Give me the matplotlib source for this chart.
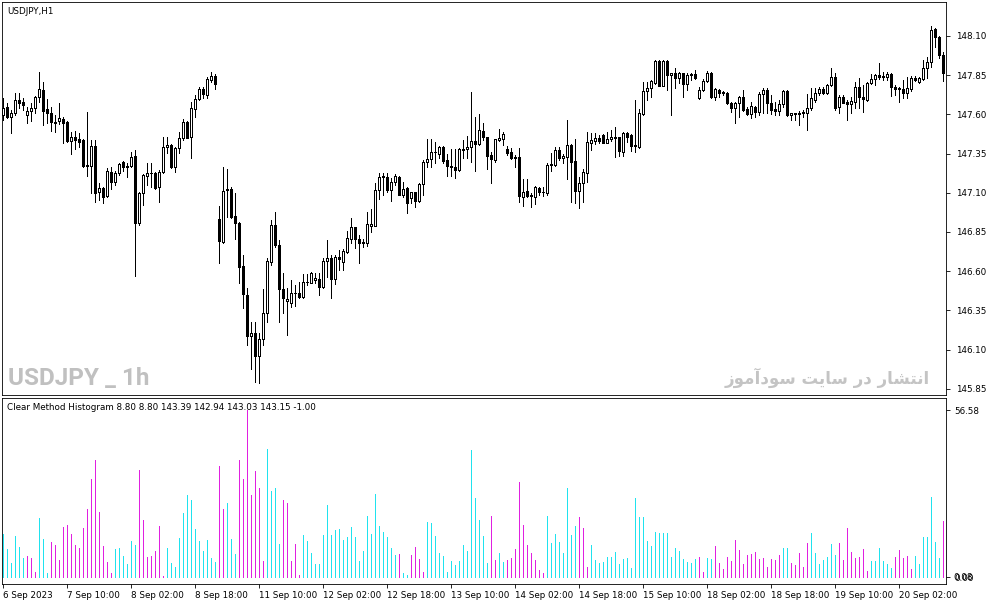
import matplotlib
matplotlib.use("Agg")
import matplotlib.pyplot as plt

# USDJPY H1, 6 Sep 2023 18:00 .. 20 Sep 2023 13:00 (236 bars)
opens = [147.596, 147.647, 147.584, 147.609, 147.692, 147.679, 147.596, 147.622, 147.641, 147.711,
         147.756, 147.635, 147.609, 147.552, 147.558, 147.571, 147.552, 147.431, 147.456, 147.443,
         147.437, 147.271, 147.271, 147.399, 147.105, 147.131, 147.080, 147.233, 147.169, 147.227,
         147.297, 147.265, 147.271, 147.335, 146.908, 147.099, 147.207, 147.227, 147.227, 147.137,
         147.233, 147.392, 147.405, 147.265, 147.386, 147.450, 147.552, 147.456, 147.635, 147.699,
         147.762, 147.724, 147.820, 147.845, 146.933, 146.787, 147.118, 147.125, 146.952, 146.908,
         146.633, 146.448, 146.187, 146.206, 146.059, 146.168, 146.334, 146.659, 146.895, 146.767,
         146.487, 146.410, 146.397, 146.461, 146.464, 146.436, 146.531, 146.525, 146.544, 146.551,
         146.500, 146.665, 146.685, 146.551, 146.691, 146.659, 146.723, 146.806, 146.882, 146.806,
         146.780, 146.780, 146.889, 146.889, 147.118, 147.201, 147.201, 147.118, 147.169, 147.201,
         147.086, 147.131, 147.067, 147.105, 147.048, 147.156, 147.297, 147.316, 147.361, 147.348,
         147.392, 147.310, 147.271, 147.265, 147.246, 147.380, 147.380, 147.392, 147.431, 147.412,
         147.495, 147.456, 147.341, 147.310, 147.437, 147.443, 147.380, 147.361, 147.322, 147.329,
         147.074, 147.112, 147.080, 147.074, 147.131, 147.105, 147.099, 147.278, 147.278, 147.373,
         147.322, 147.329, 147.405, 147.303, 147.112, 147.163, 147.227, 147.418, 147.431, 147.450,
         147.469, 147.418, 147.443, 147.456, 147.456, 147.361, 147.482, 147.469, 147.399, 147.392,
         147.603, 147.750, 147.769, 147.801, 147.941, 147.781, 147.941, 147.852, 147.864, 147.833,
         147.864, 147.794, 147.852, 147.858, 147.705, 147.756, 147.813, 147.865, 147.711, 147.756,
         147.737, 147.737, 147.673, 147.641, 147.673, 147.711, 147.635, 147.603, 147.647, 147.616,
         147.730, 147.756, 147.673, 147.635, 147.622, 147.667, 147.750, 147.596, 147.609, 147.603,
         147.607, 147.609, 147.641, 147.692, 147.737, 147.762, 147.737, 147.788, 147.839, 147.647,
         147.711, 147.679, 147.667, 147.679, 147.775, 147.711, 147.692, 147.801, 147.826, 147.852,
         147.839, 147.839, 147.858, 147.775, 147.762, 147.762, 147.737, 147.762, 147.833, 147.807,
         147.826, 147.896, 147.935, 148.145, 148.094, 147.979]

highs = [147.705, 147.673, 147.628, 147.737, 147.737, 147.705, 147.647, 147.673, 147.718, 147.871,
         147.807, 147.699, 147.647, 147.596, 147.673, 147.584, 147.555, 147.488, 147.495, 147.482,
         147.440, 147.616, 147.437, 147.437, 147.163, 147.137, 147.259, 147.265, 147.239, 147.290,
         147.303, 147.290, 147.361, 147.373, 147.105, 147.220, 147.290, 147.290, 147.233, 147.246,
         147.456, 147.456, 147.408, 147.392, 147.488, 147.571, 147.555, 147.679, 147.724, 147.775,
         147.775, 147.839, 147.871, 147.858, 147.016, 147.265, 147.252, 147.137, 147.099, 146.914,
         146.704, 146.493, 146.276, 146.276, 146.206, 146.487, 146.685, 146.927, 146.978, 146.799,
         146.589, 146.493, 146.544, 146.512, 146.531, 146.582, 146.582, 146.595, 146.589, 146.589,
         146.685, 146.799, 146.704, 146.704, 146.736, 146.742, 146.857, 146.940, 146.885, 146.831,
         146.806, 146.978, 146.997, 147.163, 147.227, 147.227, 147.227, 147.195, 147.220, 147.207,
         147.169, 147.137, 147.108, 147.108, 147.163, 147.310, 147.443, 147.443, 147.424, 147.399,
         147.399, 147.348, 147.380, 147.380, 147.383, 147.437, 147.463, 147.743, 147.584, 147.603,
         147.546, 147.459, 147.361, 147.446, 147.507, 147.488, 147.399, 147.386, 147.341, 147.386,
         147.188, 147.188, 147.099, 147.144, 147.137, 147.137, 147.290, 147.354, 147.392, 147.392,
         147.348, 147.565, 147.412, 147.443, 147.201, 147.252, 147.488, 147.482, 147.482, 147.469,
         147.472, 147.488, 147.501, 147.520, 147.459, 147.488, 147.488, 147.472, 147.692, 147.635,
         147.807, 147.807, 147.820, 147.947, 147.947, 147.947, 147.947, 147.865, 147.896, 147.871,
         147.867, 147.865, 147.865, 147.884, 147.775, 147.826, 147.877, 147.871, 147.769, 147.759,
         147.750, 147.743, 147.679, 147.679, 147.718, 147.756, 147.647, 147.679, 147.654, 147.743,
         147.769, 147.769, 147.724, 147.679, 147.692, 147.756, 147.756, 147.612, 147.612, 147.622,
         147.628, 147.730, 147.769, 147.769, 147.775, 147.775, 147.794, 147.896, 147.865, 147.724,
         147.724, 147.692, 147.711, 147.807, 147.833, 147.788, 147.807, 147.858, 147.858, 147.928,
         147.871, 147.871, 147.861, 147.788, 147.775, 147.820, 147.839, 147.845, 147.845, 147.839,
         147.947, 147.966, 148.164, 148.151, 148.097, 147.998]

lows = [147.565, 147.577, 147.482, 147.596, 147.641, 147.628, 147.546, 147.558, 147.609, 147.679,
        147.533, 147.546, 147.495, 147.488, 147.539, 147.418, 147.424, 147.348, 147.380, 147.392,
        147.265, 147.207, 147.099, 147.042, 147.054, 147.035, 147.074, 147.125, 147.150, 147.214,
        147.239, 147.201, 147.265, 146.570, 146.895, 147.023, 147.150, 147.137, 147.125, 147.042,
        147.227, 147.354, 147.259, 147.233, 147.354, 147.437, 147.447, 147.322, 147.584, 147.692,
        147.705, 147.705, 147.807, 147.762, 146.653, 146.780, 146.946, 146.940, 146.806, 146.525,
        146.366, 146.130, 145.977, 145.894, 145.887, 146.130, 146.276, 146.640, 146.755, 146.276,
        146.334, 146.193, 146.372, 146.378, 146.429, 146.429, 146.512, 146.522, 146.525, 146.448,
        146.493, 146.563, 146.429, 146.519, 146.608, 146.608, 146.716, 146.780, 146.748, 146.653,
        146.755, 146.761, 146.850, 146.886, 147.061, 147.086, 147.105, 147.048, 147.150, 147.083,
        147.074, 146.971, 147.035, 147.010, 147.042, 147.086, 147.265, 147.265, 147.290, 147.322,
        147.290, 147.207, 147.207, 147.195, 147.239, 147.322, 147.322, 147.297, 147.239, 147.405,
        147.437, 147.252, 147.163, 147.297, 147.431, 147.405, 147.341, 147.316, 147.265, 147.042,
        147.016, 147.074, 147.010, 147.029, 147.086, 147.080, 147.086, 147.239, 147.271, 147.310,
        147.290, 147.188, 147.042, 147.035, 147.003, 147.042, 147.169, 147.373, 147.412, 147.418,
        147.415, 147.415, 147.431, 147.329, 147.335, 147.335, 147.424, 147.367, 147.361, 147.386,
        147.596, 147.692, 147.711, 147.794, 147.779, 147.779, 147.756, 147.596, 147.769, 147.801,
        147.711, 147.756, 147.820, 147.826, 147.699, 147.750, 147.807, 147.705, 147.692, 147.711,
        147.724, 147.667, 147.616, 147.546, 147.584, 147.622, 147.596, 147.577, 147.584, 147.596,
        147.609, 147.609, 147.603, 147.596, 147.596, 147.647, 147.590, 147.565, 147.565, 147.533,
        147.584, 147.501, 147.628, 147.679, 147.724, 147.730, 147.730, 147.781, 147.628, 147.609,
        147.670, 147.565, 147.609, 147.641, 147.641, 147.616, 147.686, 147.794, 147.788, 147.826,
        147.820, 147.820, 147.718, 147.724, 147.679, 147.705, 147.705, 147.750, 147.813, 147.801,
        147.820, 147.833, 147.903, 148.030, 147.960, 147.813]

closes = [147.641, 147.584, 147.609, 147.692, 147.673, 147.660, 147.622, 147.641, 147.711, 147.762,
          147.622, 147.609, 147.552, 147.548, 147.577, 147.546, 147.431, 147.456, 147.437, 147.424,
          147.271, 147.277, 147.399, 147.099, 147.131, 147.074, 147.239, 147.169, 147.227, 147.284,
          147.265, 147.271, 147.329, 146.908, 147.099, 147.214, 147.227, 147.224, 147.131, 147.233,
          147.392, 147.405, 147.265, 147.386, 147.450, 147.552, 147.450, 147.641, 147.699, 147.762,
          147.730, 147.826, 147.845, 147.794, 146.793, 147.112, 147.125, 146.946, 146.908, 146.627,
          146.455, 146.187, 146.206, 146.059, 146.168, 146.334, 146.665, 146.895, 146.767, 146.487,
          146.429, 146.423, 146.461, 146.464, 146.436, 146.531, 146.534, 146.589, 146.557, 146.500,
          146.665, 146.685, 146.551, 146.691, 146.678, 146.729, 146.812, 146.882, 146.806, 146.780,
          146.784, 146.901, 146.901, 147.118, 147.201, 147.207, 147.118, 147.169, 147.207, 147.086,
          147.125, 147.035, 147.105, 147.048, 147.156, 147.297, 147.316, 147.361, 147.358, 147.392,
          147.303, 147.271, 147.265, 147.246, 147.380, 147.376, 147.392, 147.431, 147.412, 147.501,
          147.456, 147.335, 147.316, 147.443, 147.450, 147.475, 147.354, 147.322, 147.326, 147.080,
          147.105, 147.080, 147.083, 147.137, 147.105, 147.108, 147.278, 147.284, 147.373, 147.322,
          147.335, 147.405, 147.297, 147.112, 147.163, 147.233, 147.424, 147.437, 147.450, 147.431,
          147.418, 147.443, 147.456, 147.452, 147.367, 147.482, 147.456, 147.399, 147.405, 147.609,
          147.750, 147.769, 147.813, 147.941, 147.781, 147.941, 147.852, 147.864, 147.833, 147.864,
          147.794, 147.852, 147.858, 147.833, 147.756, 147.813, 147.865, 147.711, 147.762, 147.737,
          147.740, 147.673, 147.641, 147.673, 147.711, 147.628, 147.603, 147.654, 147.616, 147.730,
          147.756, 147.673, 147.628, 147.622, 147.667, 147.750, 147.596, 147.609, 147.603, 147.607,
          147.616, 147.641, 147.705, 147.737, 147.762, 147.737, 147.788, 147.839, 147.641, 147.711,
          147.673, 147.667, 147.686, 147.775, 147.711, 147.699, 147.801, 147.826, 147.852, 147.839,
          147.845, 147.858, 147.775, 147.762, 147.766, 147.737, 147.769, 147.833, 147.820, 147.833,
          147.896, 147.935, 148.139, 148.094, 147.979, 147.864]

# Clear Method Histogram (u = up / aqua, d = down / magenta)
hist_vals = [14.5, 9.4, 4.6, 13.8, 10.1, 6.3, 7.0, 6.3, 1.6, 19.9,
             12.8, 1.2, 11.8, 10.7, 5.7, 16.8, 17.5, 14.5, 10.7, 9.7,
             16.5, 22.9, 33.4, 39.6, 21.9, 10.4, 5.0, 1.2, 9.4, 9.7,
             7.0, 4.3, 12.1, 10.7, 36.2, 19.5, 6.7, 7.0, 8.7, 17.2,
             0.2, 9.7, 4.6, 3.3, 13.1, 21.6, 27.7, 26.0, 16.2, 12.1,
             8.7, 12.4, 6.3, 5.0, 37.5, 22.9, 25.0, 12.8, 7.7, 39.6,
             33.1, 56.58, 27.7, 35.8, 30.1, 5.3, 43.3, 29.0, 30.1, 11.1,
             26.0, 25.0, 5.3, 11.1, 0.6, 14.1, 12.1, 8.0, 4.3, 4.3,
             14.1, 24.3, 14.1, 15.8, 16.2, 12.4, 13.4, 16.8, 13.4, 5.3,
             8.7, 20.6, 14.5, 28.0, 17.2, 15.1, 13.4, 9.7, 7.3, 7.7,
             1.2, 0.6, 7.3, 10.1, 6.0, 1.6, 18.5, 18.2, 13.8, 8.0,
             7.0, 1.6, 5.3, 4.0, 5.3, 10.7, 8.7, 42.9, 26.7, 19.5,
             13.8, 4.6, 20.6, 5.7, 8.0, 5.0, 5.7, 6.3, 9.4, 32.1,
             17.5, 10.7, 8.0, 5.7, 2.3, 1.2, 20.6, 11.4, 14.5, 11.8,
             8.0, 30.1, 14.1, 17.2, 20.2, 16.5, 3.3, 10.7, 5.7, 4.6,
             5.0, 6.7, 6.7, 8.4, 4.3, 6.0, 6.3, 2.9, 26.7, 20.2,
             20.2, 12.1, 10.4, 15.1, 14.8, 14.8, 14.8, 6.7, 9.7, 8.7,
             6.0, 5.0, 4.6, 6.0, 6.7, 1.6, 6.3, 6.0, 10.4, 4.6,
             2.6, 6.7, 5.3, 12.4, 9.0, 4.3, 7.3, 7.7, 8.4, 6.0,
             6.3, 3.3, 6.0, 5.7, 7.3, 9.7, 9.7, 4.6, 4.0, 8.0,
             3.3, 11.4, 14.8, 8.0, 4.3, 5.7, 6.7, 11.1, 7.3, 11.4,
             5.7, 16.5, 8.4, 6.3, 6.7, 9.4, 1.9, 5.3, 5.3, 9.7,
             5.3, 4.3, 2.9, 6.7, 9.0, 6.3, 7.0, 2.6, 7.0, 4.3,
             13.4, 13.4, 27.3, 11.8, 6.3, 18.9]

hist_trend = ("uuuuuu" "ddd" "uuu" "dddddddddddddddd" "uuuuuu" "ddddddd"
              "uuuuuuuuuuuuu" "dd" "uuu" "ddddddd" "uuuu" "ddddd"
              "uuuuuuuuuuuuuuuuuuuuuuuu" "d" "uu" "dddd" "uuuuuuuuuuuuuuuu"
              "dd" "uu" "dddddddddd" "uuuuuuuu" "ddd" "uuuuuuuuuuuuuuuuuuuuuuuuuuu"
              "dd" "uu" "ddddddddddddddddd" "uu" "ddddd" "uuuuuuu" "dddddddd"
              "uuuuuu" "ddddd" "uuuuuuu" "d")

price_ticks = [148.10, 147.85, 147.60, 147.35, 147.10, 146.85, 146.60, 146.35, 146.10, 145.85]
time_pos = [0, 16, 32, 48, 64, 80, 96, 112, 128, 144, 160, 176, 192, 208, 224]
time_labels = ["6 Sep 2023", "7 Sep 10:00", "8 Sep 02:00", "8 Sep 18:00", "11 Sep 10:00",
               "12 Sep 02:00", "12 Sep 18:00", "13 Sep 10:00", "14 Sep 02:00", "14 Sep 18:00",
               "15 Sep 10:00", "18 Sep 02:00", "18 Sep 18:00", "19 Sep 10:00", "20 Sep 02:00"]

symbol_label = "USDJPY,H1"
hist_label = "Clear Method Histogram 8.80 8.80 143.39 142.94 143.03 143.15 -1.00"
watermark = "USDJPY _ 1h"
watermark_fa = "انتشار در سایت سودآموز"

# small arabic shaper for the persian watermark (isolated, final, initial, medial)
FORMS = {
    "ا": ("\ufe8d", "\ufe8e", None, None), "آ": ("\ufe81", "\ufe82", None, None),
    "ن": ("\ufee5", "\ufee6", "\ufee7", "\ufee8"), "ت": ("\ufe95", "\ufe96", "\ufe97", "\ufe98"),
    "ش": ("\ufeb5", "\ufeb6", "\ufeb7", "\ufeb8"), "ر": ("\ufead", "\ufeae", None, None),
    "د": ("\ufea9", "\ufeaa", None, None), "س": ("\ufeb1", "\ufeb2", "\ufeb3", "\ufeb4"),
    "ی": ("\ufbfc", "\ufbfd", "\ufbfe", "\ufbff"), "و": ("\ufeed", "\ufeee", None, None),
    "م": ("\ufee1", "\ufee2", "\ufee3", "\ufee4"), "ز": ("\ufeaf", "\ufeb0", None, None),
}


def shape_rtl(s):
    out = []
    for k, ch in enumerate(s):
        if ch not in FORMS:
            out.append(ch)
            continue
        prev = s[k - 1] if k > 0 else " "
        nxt = s[k + 1] if k + 1 < len(s) else " "
        jp = prev in FORMS and FORMS[prev][2] is not None
        jn = nxt in FORMS and FORMS[ch][2] is not None
        iso, fin, ini, med = FORMS[ch]
        if jp and jn:
            out.append(med)
        elif jp:
            out.append(fin)
        elif jn:
            out.append(ini)
        else:
            out.append(iso)
    return "".join(out)[::-1]


plt.rcParams['font.family'] = ['DejaVu Sans']
W, H = 987, 605
fig = plt.figure(figsize=(W / 100, H / 100), dpi=100)
fig.patch.set_facecolor("white")

ax = fig.add_axes([2 / W, 1 - 395 / H, 944 / W, 393 / H])
axh = fig.add_axes([2 / W, 1 - 584 / H, 944 / W, 186 / H])

n = len(closes)
xs = list(range(n))
lw = 0.6
fs = 6.3

# candles
ax.vlines(xs, lows, highs, colors="black", linewidth=lw, antialiased=False, zorder=2)
bottoms = [min(o, c) for o, c in zip(opens, closes)]
heights = [max(abs(c - o), 0.0008) for o, c in zip(opens, closes)]
fills = ["white" if c >= o else "black" for o, c in zip(opens, closes)]
ax.bar(xs, heights, bottom=bottoms, width=0.5, color=fills, edgecolor="black",
       linewidth=lw, antialiased=False, zorder=3)

ax.set_xlim(-0.25, n - 0.25)
ax.set_ylim(145.8104, 148.3168)
ax.set_xticks([])
ax.yaxis.tick_right()
ax.set_yticks(price_ticks)
ax.set_yticklabels([f"{p:.2f}" for p in price_ticks])
ax.tick_params(axis="y", direction="out", length=3, width=lw, pad=4, labelsize=fs, colors="black")

# histogram
colors = ["#20e2ee" if t == "u" else "#e020e0" for t in hist_trend]
axh.vlines(xs, 0, hist_vals, colors=colors, linewidth=lw, antialiased=False)
axh.set_xlim(-0.25, n - 0.25)
axh.set_ylim(-2.37, 60.7)
axh.yaxis.tick_right()
axh.set_yticks([56.58, 0.0])
axh.set_yticklabels(["56.58", "0.00"])
# second bottom level label drawn over the first, as in the terminal
axh.annotate("0.08", xy=(1.0, 0.0), xycoords=axh.get_yaxis_transform(),
             xytext=(5, 0), textcoords="offset points", fontsize=fs, va="center", ha="left")
axh.tick_params(axis="y", direction="out", length=3, width=lw, pad=3, labelsize=fs)
axh.set_xticks(time_pos)
axh.set_xticklabels(time_labels, ha="left")
axh.tick_params(axis="x", direction="out", length=3, width=lw, pad=2, labelsize=fs)

for a in (ax, axh):
    for sp in a.spines.values():
        sp.set_linewidth(lw)
        sp.set_color("black")

fig.text(7 / W, 1 - 11 / H, symbol_label, fontsize=fs, va="center", ha="left")
fig.text(7 / W, 1 - 408 / H, hist_label, fontsize=fs, va="center", ha="left")
fig.text(8 / W, 1 - 378 / H, watermark, fontsize=17.5, fontweight="bold", color="#c0c0c0",
         family=["Roboto", "DejaVu Sans"], fontstretch="condensed", va="center", ha="left")
fig.text(930 / W, 1 - 378 / H, shape_rtl(watermark_fa), fontsize=12, fontweight="bold",
         color="#c4c4c4", family=["DejaVu Sans"], va="center", ha="right")

fig.savefig("out.png", dpi=100, facecolor="white")
